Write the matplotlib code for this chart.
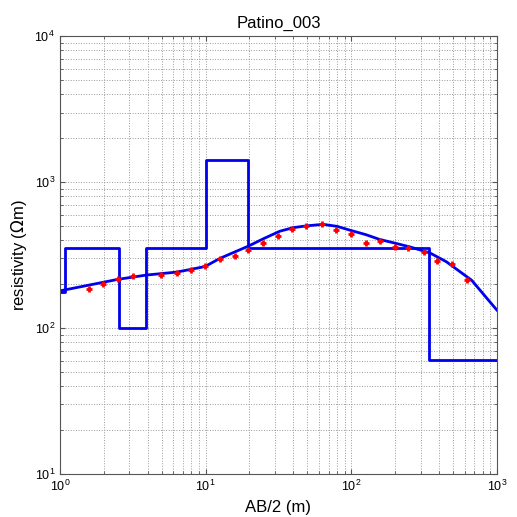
import numpy as np
import matplotlib
matplotlib.use('Agg')
import matplotlib.pyplot as plt

plt.rcParams['font.family'] = ['Liberation Sans', 'DejaVu Sans']

# measured apparent resistivity (red crosses)
ab2_obs = [1.59, 1.98, 2.49, 3.15, 4.94, 6.33, 7.92, 9.9, 12.5, 15.8, 19.6,
           24.7, 31.4, 39.5, 49.3, 63.2, 79.2, 99.4, 126, 157, 200, 246,
           317, 391, 495, 628]
rho_obs = [185, 200, 216, 227, 231, 237, 252, 266, 298, 314, 345,
           380, 430, 476, 502, 514, 469, 441, 380, 396, 360, 353,
           333, 288, 273, 213]

# model response curve (blue line)
ab2_fit = [1.0, 2.51, 3.93, 6.33, 9.9, 12.5, 15.8, 19.6, 25.0, 32.3, 40.0,
           49.3, 64.1, 80.0, 97.8, 126, 157, 200, 253, 346, 450, 671, 1000]
rho_fit = [180, 216, 231, 242, 264, 300, 332, 364, 410, 461, 488,
           502, 514, 498, 469, 437, 405, 382, 360, 328, 285, 213, 133]

# layered model (blue steps)
layer_tops = [1.0, 1.08, 2.55, 3.91, 10.0, 19.7, 342, 1000]
layer_rho = [176, 353, 100, 353, 1416, 353, 60.4, 60.4]

fig = plt.figure(figsize=(5.17, 5.17), dpi=100)
ax = fig.add_axes([0.116, 0.083, 0.845, 0.847])

ax.step(layer_tops, layer_rho, where='post', color='#0000ee', lw=2)
ax.plot(ab2_fit, rho_fit, color='#0000ee', lw=2)
ax.plot(ab2_obs, rho_obs, '+', color='red', ms=5, mew=2)

ax.set_xscale('log')
ax.set_yscale('log')
ax.set_xlim(1, 1000)
ax.set_ylim(10, 10000)
ax.grid(True, which='both', linestyle=':', color='#999999', lw=0.7)
ax.tick_params(which='both', direction='in', labelsize=9,
               top=True, right=True, color='#555555')
for s in ax.spines.values():
    s.set_color('#555555')

ax.set_title('Patino_003', fontsize=12)
ax.set_xlabel('AB/2 (m)', fontsize=12)
ax.set_ylabel(r'resistivity ($\Omega$m)', fontsize=12)

plt.savefig('out.png', dpi=100)
